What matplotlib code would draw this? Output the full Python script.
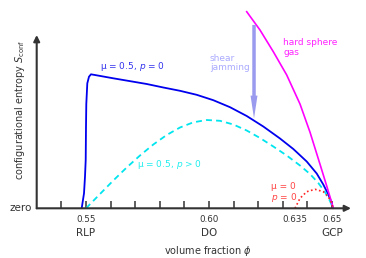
import matplotlib
matplotlib.use("Agg")
import matplotlib.pyplot as plt

# --- data ---
blue_phi = [0.54825, 0.54919, 0.54959, 0.54988, 0.55000, 0.55012, 0.55053, 0.55122, 0.55203,
            0.56110, 0.57467, 0.58142, 0.58821, 0.59500, 0.60175, 0.60854, 0.61533, 0.62207,
            0.62886, 0.63427, 0.63972, 0.64378, 0.64646, 0.64850, 0.64988, 0.65040]
blue_s = [0.0, 0.0866, 0.1823, 0.2787, 0.4709, 0.6019, 0.7213, 0.7594, 0.7732,
          0.7501, 0.7173, 0.6971, 0.6780, 0.6549, 0.6238, 0.5834, 0.5326, 0.4720,
          0.4028, 0.3422, 0.2700, 0.2008, 0.1373, 0.0796, 0.0306, 0.0]

cyan_phi = [0.55000, 0.55569, 0.56110, 0.56654, 0.57195, 0.57736, 0.58280, 0.58821, 0.59362,
            0.59907, 0.60447, 0.60988, 0.61533, 0.62073, 0.62614, 0.63159, 0.63699, 0.64106,
            0.64443, 0.64715, 0.64919, 0.65040]
cyan_s = [0.0, 0.0825, 0.1604, 0.2354, 0.3047, 0.3681, 0.4230, 0.4662, 0.4962,
          0.5095, 0.5049, 0.4836, 0.4489, 0.4057, 0.3566, 0.3047, 0.2470, 0.1979,
          0.1460, 0.0941, 0.0421, 0.0]

mag_phi = [0.61533, 0.62073, 0.62614, 0.63159, 0.63699, 0.64106, 0.64512, 0.64785, 0.64988, 0.65053]
mag_s = [1.1344, 1.0288, 0.9036, 0.7692, 0.6018, 0.4391, 0.2545, 0.1287, 0.0335, 0.0]

red_phi = [0.63496, 0.63699, 0.63972, 0.64309, 0.64646, 0.64850, 0.64988, 0.65040]
red_s = [0.0, 0.0577, 0.0958, 0.1096, 0.0958, 0.0669, 0.0289, 0.0]

minor_ticks = [0.54, 0.55, 0.56, 0.57, 0.58, 0.59, 0.60, 0.61, 0.62, 0.63, 0.64, 0.65]
label_ticks = [0.55, 0.60, 0.635, 0.65]
label_texts = ["0.55", "0.60", "0.635", "0.65"]
name_ticks = [0.55, 0.60, 0.65]
name_texts = ["RLP", "DO", "GCP"]

shear_phi = 0.6183
shear_top, shear_bottom = 1.058, 0.518

W, H = 366, 258
fig = plt.figure(figsize=(W / 100, H / 100), dpi=100)
x0, x1 = 36.7, 351.0
y0, y1 = 208.3, 35.0
ax = fig.add_axes([x0 / W, 1 - y0 / H, (x1 - x0) / W, (y0 - y1) / H])
ax.set_xlim(0.55 + (x0 - 86) / 2460, 0.55 + (x1 - 86) / 2460)
ax.set_ylim(0, 1)
for sp in ax.spines.values():
    sp.set_visible(False)

axc = "#333333"
ax.annotate("", xy=(1, 0), xytext=(0, 0), xycoords="axes fraction",
            arrowprops=dict(arrowstyle="-|>", color=axc, lw=1.5, mutation_scale=9,
                            shrinkA=0, shrinkB=0), annotation_clip=False)
ax.annotate("", xy=(0, 1), xytext=(0, 0), xycoords="axes fraction",
            arrowprops=dict(arrowstyle="-|>", color=axc, lw=1.5, mutation_scale=9,
                            shrinkA=0, shrinkB=0), annotation_clip=False)

ax.set_xticks(minor_ticks)
ax.set_xticklabels([])
ax.tick_params(axis="x", direction="in", length=5, width=1.1, color=axc)
ax.set_yticks([])

for t, lab in zip(label_ticks, label_texts):
    ax.text(t, -0.065, lab, ha="center", va="center", fontsize=6.3, color=axc)
for t, lab in zip(name_ticks, name_texts):
    ax.text(t, -0.14, lab, ha="center", va="center", fontsize=7.5, color=axc)
ax.text(-0.015, 0.0, "zero", transform=ax.transAxes, ha="right", va="center",
        fontsize=7.5, color=axc)

fig.text(208 / W, 1 - 251 / H, r"volume fraction $\phi$", ha="center", va="center",
         fontsize=7, color=axc)
fig.text(20 / W, 1 - 110 / H, r"configurational entropy $S_{\rm conf}$", ha="center",
         va="center", rotation=90, fontsize=7, color=axc)

ax.plot(blue_phi, blue_s, color="#0000ee", lw=1.3, solid_joinstyle="round")
ax.plot(cyan_phi, cyan_s, color="#00e5ee", lw=1.3, ls=(0, (3.3, 2.3)))
ax.plot(mag_phi, mag_s, color="#ff00ff", lw=1.2, clip_on=False, solid_joinstyle="round")
ax.plot(red_phi, red_s, color="#ff2222", lw=1.2, ls=(0, (1, 1.5)))

ax.annotate("", xy=(shear_phi, shear_bottom), xytext=(shear_phi, shear_top),
            arrowprops=dict(arrowstyle="simple,head_length=1.65,head_width=0.5,tail_width=0.25",
                            mutation_scale=10, color="#9a9aee", shrinkA=0, shrinkB=0, lw=0),
            annotation_clip=False)

ax.text(0.5557, 0.816, r"μ = 0.5, $p$ = 0", ha="left", va="center", fontsize=6.5,
        color="#3333ee")
ax.text(0.5707, 0.250, r"μ = 0.5, $p$ > 0", ha="left", va="center", fontsize=6.5,
        color="#22eeee")
ax.text(0.6301, 0.927, "hard sphere\ngas", ha="left", va="center", fontsize=6.5,
        color="#ff22ff", linespacing=1.05, clip_on=False)
ax.text(0.6004, 0.838, "shear\njamming", ha="left", va="center", fontsize=6.5,
        color="#aaaaff", linespacing=1.05)
ax.text(0.6252, 0.087, "μ = 0\n$p$ = 0", ha="left", va="center", fontsize=6.5,
        color="#ff4444", linespacing=1.0)

fig.savefig("out.png", dpi=100)
